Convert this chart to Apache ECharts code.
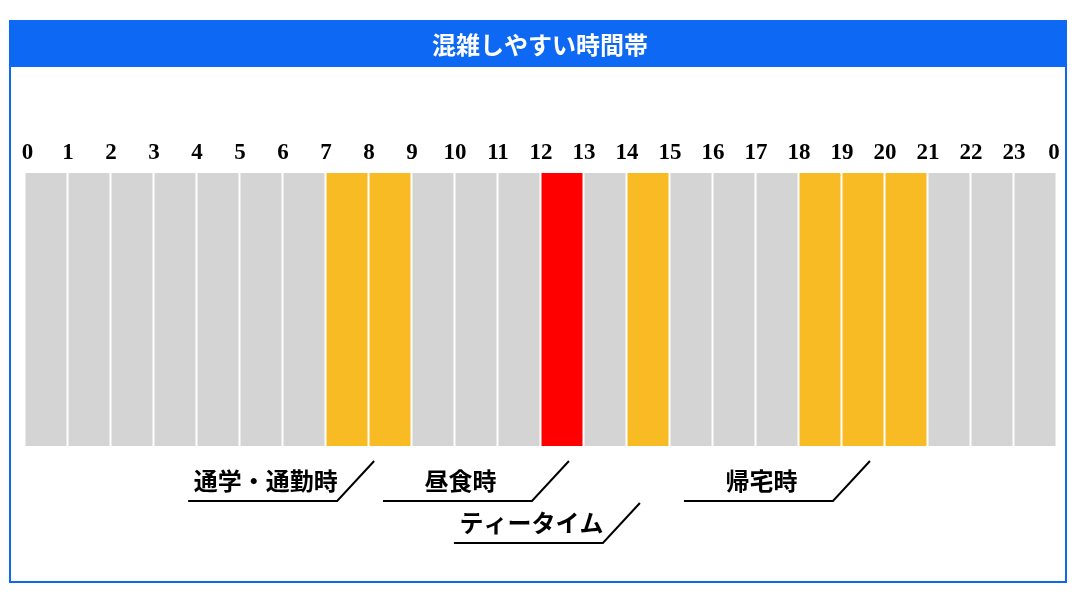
<!DOCTYPE html>
<html>
<head>
<meta charset="utf-8">
<script src="https://cdn.jsdelivr.net/npm/echarts@6/dist/echarts.min.js"></script>
<style>
  html, body { margin: 0; padding: 0; background: #fff; }
  #chart { width: 1080px; height: 600px; }
</style>
</head>
<body>
<div id="chart"></div>
<script>
// hours of the day and how crowded each one is (0 = normal, 1 = busy, 2 = very busy)
const hours = [0, 1, 2, 3, 4, 5, 6, 7, 8, 9, 10, 11, 12, 13, 14, 15, 16, 17, 18, 19, 20, 21, 22, 23];
const levels = [0, 0, 0, 0, 0, 0, 0, 1, 1, 0, 0, 0, 2, 0, 1, 0, 0, 0, 1, 1, 1, 0, 0, 0];
const tickLabels = ["0", "1", "2", "3", "4", "5", "6", "7", "8", "9", "10", "11", "12",
    "13", "14", "15", "16", "17", "18", "19", "20", "21", "22", "23", "0"];

// notes under the strip: text, hour where the slanted line points, row
const noteTexts = ["通学・通勤時", "昼食時", "ティータイム", "帰宅時"];
const noteHours = [8.12, 12.65, 14.3, 19.65];
const noteRows = [0, 0, 1, 0];

const levelColors = ["#d5d4d5", "#f9bb24", "#fe0000"];

var myChart = echarts.init(document.getElementById("chart"));

const labelFont = {
    fontSize: 23,
    fontWeight: "bold",
    fontFamily: "Liberation Serif",
    color: "#000",
};

let option = {
    animation: false,
    title: {
        text: "混雑しやすい時間帯",
        left: "center",
        top: 31,
        textStyle: {
            color: "#fff",
            fontSize: 24,
            fontWeight: "bold",
            fontFamily: "Noto Sans CJK JP",
            lineHeight: 28,
        },
        padding: 0,
    },
    graphic: [
        {
            type: "rect",
            z: 0,
            shape: { x: 10, y: 21, width: 1056, height: 561 },
            style: { fill: "#fff", stroke: "#0d69f3", lineWidth: 2 },
        },
        {
            type: "rect",
            z: 1,
            shape: { x: 9, y: 20, width: 1058, height: 47 },
            style: { fill: "#0d69f3" },
        },
    ],
    grid: {
        left: 25,
        right: 23,
        top: 173,
        bottom: 154,
    },
    xAxis: {
        type: "value",
        position: "top",
        min: 0,
        max: 24,
        interval: 1,
        axisLine: { show: false },
        axisTick: { show: false },
        splitLine: { show: false },
        axisLabel: {
            margin: 8,
            ...labelFont,
            formatter: (v) => {
                if (v === 0) return "{first|" + tickLabels[v] + "}";
                if (v === 24) return "{last|" + tickLabels[v] + "}";
                return tickLabels[v];
            },
            rich: {
                first: { ...labelFont, padding: [0, 0, 0, 5] },
                last: { ...labelFont, padding: [0, 6, 0, 0] },
            },
        },
    },
    yAxis: {
        type: "value",
        min: 0,
        max: 1,
        show: false,
    },
    series: [
        {
            type: "custom",
            z: 2,
            silent: true,
            data: hours.map((h, i) => [h, levels[i]]),
            renderItem: (params, api) => {
                const p0 = api.coord([api.value(0), 1]);
                const p1 = api.coord([api.value(0) + 1, 0]);
                return {
                    type: "rect",
                    shape: { x: p0[0] + 0.5, y: p0[1], width: p1[0] - p0[0] - 2, height: p1[1] - p0[1] },
                    style: { fill: levelColors[api.value(1)] },
                };
            },
        },
        {
            type: "custom",
            z: 3,
            silent: true,
            clip: false,
            data: noteHours.map((h, i) => [h, noteRows[i], i]),
            renderItem: (params, api) => {
                const top = api.coord([api.value(0), 0]);
                const row = api.value(1);
                const tipY = top[1] + 15 + row * 42;
                const lineY = tipY + 40;
                const endX = top[0] - 37;
                const startX = endX - 149;
                return {
                    type: "group",
                    children: [
                        {
                            type: "polyline",
                            shape: { points: [[startX, lineY], [endX, lineY], [top[0], tipY]] },
                            style: { stroke: "#000", lineWidth: 2, fill: null },
                        },
                        {
                            type: "text",
                            style: {
                                text: noteTexts[api.value(2)],
                                x: (startX + endX) / 2 + 3,
                                y: lineY - 20,
                                align: "center",
                                verticalAlign: "middle",
                                fontSize: 24,
                                fontWeight: "bold",
                                fontFamily: "Noto Sans CJK JP",
                                fill: "#000",
                            },
                        },
                    ],
                };
            },
        },
    ],
};
myChart.setOption(option);
</script>
</body>
</html>
